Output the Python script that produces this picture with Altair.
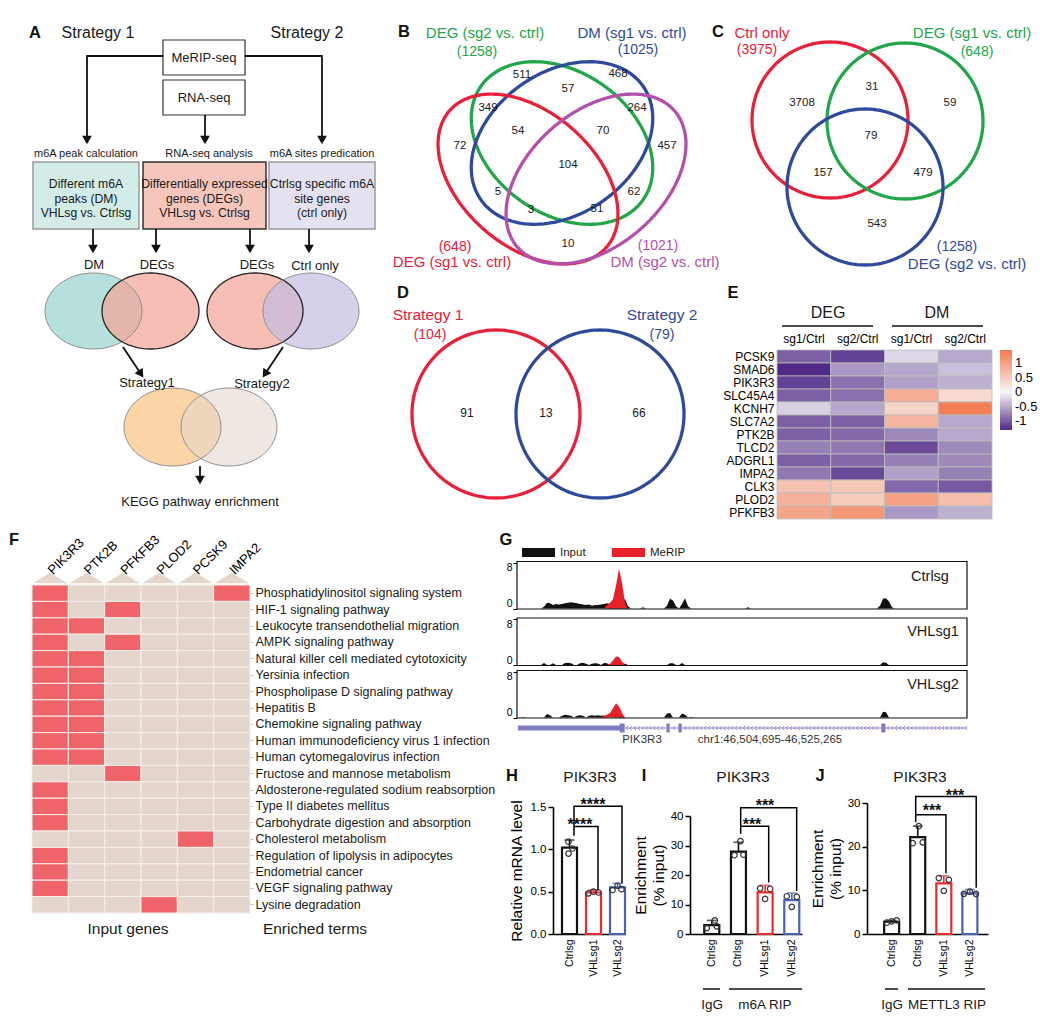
import numpy as np
import pandas as pd
import altair as alt

# ------------------------------------------------------------------ canvas
W, H = 1035, 1008
OFF = 8
FONT = "Liberation Sans"
BLACK = "#111111"
RED = "#e8203a"
GREEN = "#22a64a"
BLUE = "#2f4a9c"
MAGENTA = "#b450aa"
BAR_RED = "#ee2a2e"
BAR_BLUE = "#4a62b6"
TRK_RED = "#e8202a"


def P(v):
    return v - OFF


def CX():
    return alt.Scale(domain=[OFF, OFF + W], range=[0, W], nice=False, zero=False)


def CY():
    return alt.Scale(domain=[OFF, OFF + H], range=[0, H], nice=False, zero=False)


# ================================================================== DATA
# ---- B: four-set Venn
B_LABELS = ["DEG (sg2 vs. ctrl)", "DM (sg1 vs. ctrl)", "DEG (sg1 vs. ctrl)", "DM (sg2 vs. ctrl)"]
B_TOTALS = [1258, 1025, 648, 1021]
B_COLORS = [GREEN, BLUE, RED, MAGENTA]
B_COUNTS = [511, 57, 468, 349, 264, 54, 70, 72, 457, 104, 5, 62, 3, 51, 10]
# ---- C: three-set Venn
C_LABELS = ["Ctrl only", "DEG (sg1 vs. ctrl)", "DEG (sg2 vs. ctrl)"]
C_TOTALS = [3975, 648, 1258]
C_COLORS = [RED, GREEN, BLUE]
C_COUNTS = [3708, 31, 59, 79, 157, 479, 543]
# ---- D: two-set Venn
D_LABELS = ["Strategy 1", "Strategy 2"]
D_TOTALS = [104, 79]
D_COLORS = [RED, BLUE]
D_COUNTS = [91, 13, 66]

# ---- E: heatmap
E_GENES = ["PCSK9", "SMAD6", "PIK3R3", "SLC45A4", "KCNH7", "SLC7A2", "PTK2B",
           "TLCD2", "ADGRL1", "IMPA2", "CLK3", "PLOD2", "PFKFB3"]
E_COLS = ["DEG sg1", "DEG sg2", "DM sg1", "DM sg2"]
E_DEG_SG1 = [-0.95, -1.3, -1.15, -0.95, -0.25, -0.95, -0.95, -0.75, -0.95, -0.8, 0.6, 0.8, 0.95]
E_DEG_SG2 = [-1.15, -0.6, -0.85, -0.85, -0.5, -0.95, -0.9, -0.8, -0.9, -1.1, 0.55, 0.5, 1.1]
E_DM_SG1 = [-0.2, -0.5, -0.55, 0.85, 0.4, 0.75, -0.7, -1.1, -0.75, -0.55, -0.9, 1.0, -0.6]
E_DM_SG2 = [-0.5, -0.35, -0.45, 0.35, 1.4, -0.5, -0.5, -0.7, -0.7, -0.75, -1.0, 0.65, -0.45]
E_VALUES = [E_DEG_SG1, E_DEG_SG2, E_DM_SG1, E_DM_SG2]
E_LEGEND_VALUES = [1, 0.5, 0, -0.5, -1]

# ---- F: gene x KEGG term membership
F_GENES = ["PIK3R3", "PTK2B", "PFKFB3", "PLOD2", "PCSK9", "IMPA2"]
F_TERMS = [
    "Phosphatidylinositol signaling system", "HIF-1 signaling pathway",
    "Leukocyte transendothelial migration", "AMPK signaling pathway",
    "Natural killer cell mediated cytotoxicity", "Yersinia infection",
    "Phospholipase D signaling pathway", "Hepatitis B", "Chemokine signaling pathway",
    "Human immunodeficiency virus 1 infection", "Human cytomegalovirus infection",
    "Fructose and mannose metabolism", "Aldosterone-regulated sodium reabsorption",
    "Type II diabetes mellitus", "Carbohydrate digestion and absorption",
    "Cholesterol metabolism", "Regulation of lipolysis in adipocytes",
    "Endometrial cancer", "VEGF signaling pathway", "Lysine degradation",
]
F_HITS = [
    [1, 0, 0, 0, 0, 1], [1, 0, 1, 0, 0, 0], [1, 1, 0, 0, 0, 0], [1, 0, 1, 0, 0, 0],
    [1, 1, 0, 0, 0, 0], [1, 1, 0, 0, 0, 0], [1, 1, 0, 0, 0, 0], [1, 1, 0, 0, 0, 0],
    [1, 1, 0, 0, 0, 0], [1, 1, 0, 0, 0, 0], [1, 1, 0, 0, 0, 0], [0, 0, 1, 0, 0, 0],
    [1, 0, 0, 0, 0, 0], [1, 0, 0, 0, 0, 0], [1, 0, 0, 0, 0, 0], [0, 0, 0, 0, 1, 0],
    [1, 0, 0, 0, 0, 0], [1, 0, 0, 0, 0, 0], [1, 0, 0, 0, 0, 0], [0, 0, 0, 1, 0, 0],
]

# ---- G: coverage tracks (150 bins over chr1:46,504,695-46,525,265), only non-zero bins listed
G_NBINS = 150
G_CTRL_INPUT = {9: 0.3, 10: 1.0, 11: 0.9, 12: 0.6, 13: 0.8, 14: 0.7, 15: 0.8, 16: 0.9, 17: 1.0,
                18: 1.1, 19: 1.0, 20: 0.9, 21: 0.8, 22: 0.7, 23: 0.6, 24: 0.7, 25: 0.5, 26: 0.6,
                27: 0.6, 28: 0.7, 29: 0.8, 30: 0.9, 31: 0.8, 32: 0.7, 33: 0.9, 34: 1.2, 35: 1.6,
                36: 1.6, 37: 0.4, 42: 0.2, 50: 0.5, 51: 1.7, 52: 1.4, 53: 0.4, 55: 0.8, 56: 1.8,
                57: 0.4, 77: 0.2, 121: 0.5, 122: 1.7, 123: 1.8, 124: 1.2, 125: 0.2}
G_CTRL_MERIP = {30: 0.6, 31: 1.0, 32: 1.6, 33: 4.0, 34: 6.9, 35: 4.5, 36: 1.0}
G_SG1_INPUT = {9: 0.35, 12: 0.3, 16: 0.35, 17: 0.4, 18: 0.3, 21: 0.3, 22: 0.4, 23: 0.2, 25: 0.2,
               26: 0.3, 27: 0.25, 29: 0.35, 30: 0.3, 35: 0.3, 36: 0.2, 51: 0.3, 52: 0.3, 55: 0.35,
               122: 0.5, 123: 0.4}
G_SG1_MERIP = {31: 0.2, 32: 0.8, 33: 1.5, 34: 1.4, 35: 0.6}
G_SG2_INPUT = {2: 0.1, 10: 0.6, 11: 0.4, 15: 0.3, 16: 0.5, 17: 0.4, 18: 0.3, 20: 0.3, 21: 0.4,
               22: 0.3, 24: 0.3, 25: 0.4, 26: 0.3, 27: 0.4, 28: 0.3, 29: 0.35, 33: 0.3, 34: 0.4,
               35: 0.3, 50: 0.7, 51: 0.8, 55: 0.7, 56: 0.5, 58: 0.1, 122: 1.0, 123: 0.9}
G_SG2_MERIP = {29: 0.3, 30: 0.5, 31: 0.8, 32: 1.6, 33: 2.5, 34: 1.9, 35: 0.8}
G_SAMPLES = ["Ctrlsg", "VHLsg1", "VHLsg2"]
G_UTR = [(0.3, 35.0)]
G_EXONS = [(34.2, 35.9), (49.8, 50.9), (53.8, 54.9), (121.4, 122.8)]
G_INTRON = (35.9, 150.0)

# ---- H / I / J bar charts
H_CATS = ["Ctrlsg", "VHLsg1", "VHLsg2"]
H_MEAN = [1.02, 0.49, 0.55]
H_SD = [0.09, 0.03, 0.05]
H_PTS = [[1.09, 1.01, 0.95], [0.48, 0.50, 0.49], [0.52, 0.57, 0.53]]
I_CATS = ["IgG", "Ctrlsg", "VHLsg1", "VHLsg2"]
I_MEAN = [3.0, 27.9, 14.1, 11.5]
I_SD = [1.6, 3.2, 2.4, 2.4]
I_PTS = [[4.6, 2.0, 2.6], [31.5, 26.7, 26.9], [15.5, 15.3, 11.9], [12.8, 12.6, 9.2]]
J_CATS = ["IgG", "Ctrlsg", "VHLsg1", "VHLsg2"]
J_MEAN = [2.8, 22.2, 11.6, 9.3]
J_SD = [0.3, 2.5, 1.7, 0.9]
J_PTS = [[2.6, 2.9, 3.1], [24.7, 20.8, 21.0], [12.8, 12.4, 9.9], [9.2, 9.7, 9.2]]

# ================================================================== LAYOUT (page px)
B_ELL = [(562, 143, 99, 71, 35), (562, 143, 99, 71, -35), (528, 179, 104, 67, 41), (596, 179, 104, 67, -41)]
B_LABEL_POS = [(485, 33), (632, 33), (452, 262), (665, 262)]
B_TOTAL_POS = [(477, 52), (638, 50), (455, 247), (658, 246)]
B_COUNT_POS = [(522, 75), (568, 89), (618, 74), (488, 108), (637, 108), (518, 131), (603, 131),
               (460, 146), (667, 146), (568, 165), (498, 192), (634, 192), (531, 210), (597, 209), (568, 244)]
C_CIRC = [(830, 120, 78), (905, 121, 78), (865, 187, 78)]
C_LABEL_POS = [(762, 33), (972, 33), (967, 264)]
C_TOTAL_POS = [(757, 50), (977, 52), (957, 247)]
C_COUNT_POS = [(802, 103), (872, 87), (950, 103), (871, 136), (823, 173), (923, 173), (877, 224)]
D_CIRC = [(496, 414, 84), (600, 414, 84)]
D_LABEL_POS = [(428, 315), (662, 315)]
D_TOTAL_POS = [(430, 335), (662, 335)]
D_COUNT_POS = [(467, 413), (546, 413), (639, 413)]
G_TRACK_Y = [(608.5, 562.5), (665.0, 619.0), (717.5, 671.5)]

layers = []


# ------------------------------------------------------------------ helpers
def text_layer(rows, align="center", baseline="middle", weight="normal"):
    df = pd.DataFrame(rows, columns=["t", "x", "y", "s", "c"])
    return alt.Chart(df).mark_text(align=align, baseline=baseline, font=FONT, fontWeight=weight).encode(
        x=alt.X("x:Q", scale=CX(), axis=None),
        y=alt.Y("y:Q", scale=CY(), axis=None),
        text=alt.Text("t:N"),
        size=alt.Size("s:Q", scale=None, legend=None),
        color=alt.Color("c:N", scale=None, legend=None),
    )


def line_layer(polys):
    rows = []
    for pid, (pts, col, w) in enumerate(polys):
        for k, (x, y) in enumerate(pts):
            rows.append({"id": pid, "o": k, "x": float(x), "y": float(y), "c": col, "w": w})
    df = pd.DataFrame(rows)
    return alt.Chart(df).mark_line(strokeJoin="round").encode(
        x=alt.X("x:Q", scale=CX(), axis=None),
        y=alt.Y("y:Q", scale=CY(), axis=None),
        detail="id:N",
        order="o:Q",
        color=alt.Color("c:N", scale=None, legend=None),
        strokeWidth=alt.StrokeWidth("w:Q", scale=None, legend=None),
    )


def rect_layer(rows):
    df = pd.DataFrame(rows, columns=["x0", "y0", "x1", "y1", "f", "s", "w"])
    return alt.Chart(df).mark_rect().encode(
        x=alt.X("x0:Q", scale=CX(), axis=None), x2="x1:Q",
        y=alt.Y("y0:Q", scale=CY(), axis=None), y2="y1:Q",
        color=alt.Color("f:N", scale=None, legend=None),
        stroke=alt.Stroke("s:N", scale=None, legend=None),
        strokeWidth=alt.StrokeWidth("w:Q", scale=None, legend=None),
    )


def ellipse_pts(cx, cy, a, b, ang=0.0, n=180):
    t = np.linspace(0, 2 * np.pi, n + 1)
    th = np.deg2rad(ang)
    x = cx + a * np.cos(t) * np.cos(th) - b * np.sin(t) * np.sin(th)
    y = cy + a * np.cos(t) * np.sin(th) + b * np.sin(t) * np.cos(th)
    return list(zip(x, y))


def ellipse_fill(cx, cy, rx, ry, fill, op):
    t = np.linspace(np.pi, 0, 121)
    df = pd.DataFrame({"x": cx + rx * np.cos(t), "y": cy - ry * np.sin(t), "y2": cy + ry * np.sin(t)})
    return alt.Chart(df).mark_area(color=fill, opacity=op, interpolate="linear").encode(
        x=alt.X("x:Q", scale=CX(), axis=None),
        y=alt.Y("y:Q", scale=CY(), axis=None, stack=None),
        y2="y2:Q",
    )


# ================================================================== PANEL A
A_ELL = [  # cx, cy, rx, ry, fill, opacity, stroke, width
    (93.5, 311, 48.5, 38, "#b5e0db", 1.0, "#8c8c8c", 1.0),
    (150.5, 311, 48.5, 38, "#f3a89c", 0.75, "#222222", 1.3),
    (255, 311, 48, 38, "#f3a89c", 0.75, "#222222", 1.3),
    (311, 311, 48, 38, "#c4bce1", 0.7, "#8c8c8c", 1.0),
    (172.5, 427, 48.5, 39, "#fcd5a6", 1.0, "#8c8c8c", 1.0),
    (229, 427, 48, 39, "#e4d7cd", 0.6, "#8c8c8c", 1.0),
]
for e in A_ELL:
    layers.append(ellipse_fill(e[0], e[1], e[2], e[3], e[4], e[5]))

RECTS = [
    (163, 40, 245, 75, "white", "#333333", 1.2),
    (163, 80, 245, 115, "white", "#333333", 1.2),
    (33, 162, 139, 229, "#d4ece8", "#9a9a9a", 1.5),
    (143, 162, 266, 229, "#f6c6bc", "#333333", 1.5),
    (269, 162, 375, 229, "#e4e1f1", "#9a9a9a", 1.5),
    (522, 548, 555, 557, BLACK, BLACK, 0),
    (612, 548, 645, 557, TRK_RED, TRK_RED, 0),
]
layers.append(rect_layer(RECTS))

# ================================================================== PANEL G tracks
GXS = dict(domain=[0, G_NBINS], range=[P(517), P(967)], nice=False, zero=False)
tracks = [(G_CTRL_INPUT, G_CTRL_MERIP), (G_SG1_INPUT, G_SG1_MERIP), (G_SG2_INPUT, G_SG2_MERIP)]
for (inp, mer), (y0, y8) in zip(tracks, G_TRACK_Y):
    df = pd.DataFrame({
        "bin": list(range(G_NBINS + 1)),
        "inp": [inp.get(i, 0.0) for i in range(G_NBINS + 1)],
        "mer": [mer.get(i, 0.0) for i in range(G_NBINS + 1)],
    })
    ysd = dict(domain=[0, 8], range=[P(y0), P(y8)], nice=False, zero=True)
    layers.append(alt.Chart(df).mark_area(color=BLACK, interpolate="linear").encode(
        x=alt.X("bin:Q", scale=alt.Scale(**GXS), axis=None),
        y=alt.Y("inp:Q", scale=alt.Scale(**ysd), stack=None,
                axis=alt.Axis(orient="left", offset=-P(517), values=[0, 8], title=None, domain=False,
                              tickSize=4, tickColor="black", tickWidth=1, labelFontSize=10.5,
                              labelColor="black", labelPadding=1, grid=False, labelFont=FONT,
                              labelFlush=True, labelFlushOffset=0)),
    ))
    layers.append(alt.Chart(df).mark_area(color=TRK_RED, interpolate="linear").encode(
        x=alt.X("bin:Q", scale=alt.Scale(**GXS), axis=None),
        y=alt.Y("mer:Q", scale=alt.Scale(**ysd), stack=None, axis=None),
    ))

FRAMES = [
    (517, 561.5, 967, 609, "transparent", BLACK, 1.2),
    (517, 618, 967, 665.5, "transparent", BLACK, 1.2),
    (517, 670.5, 967, 718, "transparent", BLACK, 1.2),
]
layers.append(rect_layer(FRAMES))

# gene model
gm_rows = [{"s": s, "e": e, "y0": 725.5, "y1": 730.5} for s, e in G_UTR] + \
          [{"s": s, "e": e, "y0": 723.5, "y1": 732.5} for s, e in G_EXONS]
layers.append(alt.Chart(pd.DataFrame(gm_rows)).mark_rect(color="#7f7bc0").encode(
    x=alt.X("s:Q", scale=alt.Scale(**GXS), axis=None), x2="e:Q",
    y=alt.Y("y0:Q", scale=CY(), axis=None), y2="y1:Q",
))
layers.append(alt.Chart(pd.DataFrame([{"s": G_INTRON[0], "e": G_INTRON[1], "y": 728}])).mark_rule(
    color="#8a86c6", strokeWidth=1.2).encode(
    x=alt.X("s:Q", scale=alt.Scale(**GXS), axis=None), x2="e:Q",
    y=alt.Y("y:Q", scale=CY(), axis=None),
))
chev = [b for b in np.arange(G_INTRON[0] + 0.8, G_INTRON[1], 1.3)
        if not any(s - 0.6 < b < e + 0.6 for s, e in G_EXONS)]
layers.append(alt.Chart(pd.DataFrame({"b": chev, "y": 728})).mark_point(
    shape="M0.5,-1L-0.5,0L0.5,1", filled=False, size=16, strokeWidth=0.9, color="#8a86c6", opacity=1).encode(
    x=alt.X("b:Q", scale=alt.Scale(**GXS), axis=None),
    y=alt.Y("y:Q", scale=CY(), axis=None),
))

# ================================================================== PANEL E heatmap
e_rows = []
for gi, g in enumerate(E_GENES):
    for ci, c in enumerate(E_COLS):
        e_rows.append({"gene": g, "col": c, "val": E_VALUES[ci][gi]})
layers.append(alt.Chart(pd.DataFrame(e_rows)).mark_rect(stroke="#bdbdbd", strokeWidth=0.8).encode(
    x=alt.X("col:N", scale=alt.Scale(domain=E_COLS, range=[P(777), P(992)], paddingInner=0, paddingOuter=0),
            axis=alt.Axis(orient="top", offset=-P(350), title=None, domain=False, ticks=False, labelAngle=0,
                          labelPadding=5, labelFontSize=12, labelColor="black", labelFont=FONT,
                          labelExpr="split(datum.value, ' ')[1] + '/Ctrl'")),
    y=alt.Y("gene:N", scale=alt.Scale(domain=E_GENES, range=[P(350), P(519)], paddingInner=0, paddingOuter=0),
            axis=alt.Axis(orient="left", offset=-P(777), title=None, domain=False, ticks=False,
                          labelPadding=3, labelFontSize=12, labelColor="black", labelFont=FONT)),
    color=alt.Color("val:Q",
                    scale=alt.Scale(domain=[-1.3, 0, 1.45], range=["#4f2a86", "#f7f7f7", "#f47a50"],
                                    interpolate="rgb"),
                    legend=alt.Legend(orient="none", legendX=P(1000), legendY=P(350), title=None,
                                      direction="vertical", gradientLength=80, gradientThickness=12,
                                      values=E_LEGEND_VALUES, labelFontSize=13, labelFont=FONT,
                                      labelColor="black", gradientStrokeWidth=0, labelOffset=3, padding=0,
                                      labelExpr="datum.value < 0 ? '-' + toString(-datum.value) : toString(datum.value)")),
))

# ================================================================== PANEL F membership grid
FXS = dict(domain=F_GENES, range=[P(32), P(250)], paddingInner=0, paddingOuter=0)
f_rows = []
for ti, t in enumerate(F_TERMS):
    for gi, g in enumerate(F_GENES):
        f_rows.append({"term": t, "gene": g, "hit": F_HITS[ti][gi]})
layers.append(alt.Chart(pd.DataFrame(f_rows)).transform_calculate(
    fc="datum.hit == 1 ? '#ef6468' : '#e5d6cd'").mark_rect(stroke="#f5eeea", strokeWidth=1).encode(
    x=alt.X("gene:N", scale=alt.Scale(**FXS),
            axis=alt.Axis(orient="top", offset=-P(572), title=None, domain=False, ticks=False,
                          labelAngle=315, labelAlign="left", labelBaseline="middle", labelPadding=0,
                          labelFontSize=13, labelColor="black", labelFont=FONT)),
    y=alt.Y("term:N", scale=alt.Scale(domain=F_TERMS, range=[P(585), P(913)], paddingInner=0, paddingOuter=0),
            axis=alt.Axis(orient="right", offset=P(250) - W, title=None, domain=False, tickSize=3,
                          tickColor="#c8c8c8", labelPadding=2, labelFontSize=12.5, labelColor="#1a1a1a",
                          labelFont=FONT, labelLimit=0)),
    color=alt.Color("fc:N", scale=None, legend=None),
))
layers.append(alt.Chart(pd.DataFrame({"gene": F_GENES})).mark_point(
    shape="M-1,0.3L0,-0.3L1,0.3Z", size=1190, filled=True, color="#e5d6cd", opacity=1, strokeWidth=0).encode(
    x=alt.X("gene:N", scale=alt.Scale(**FXS), axis=None),
    y=alt.value(P(578)),
))


# ================================================================== PANELS H I J
def bar_panel(cats, means, sds, pts, jit, colors, xr, pin, pout, align, ydom, yr, yvals, yfmt,
              ytitle, tpad, brackets):
    n = len(cats)
    step = (xr[1] - xr[0]) / max(1, n - pin + 2 * pout)
    bw = step * (1 - pin)
    xsd = dict(domain=cats, range=[P(xr[0]), P(xr[1])], paddingInner=pin, paddingOuter=pout, align=align)
    ysd = dict(domain=ydom, range=[P(yr[0]), P(yr[1])], nice=False, zero=True)
    df = pd.DataFrame({"cat": cats, "mean": means, "top": [m + s for m, s in zip(means, sds)], "col": colors})
    xaxis = alt.Axis(orient="bottom", offset=P(yr[0]) - H, title=None, labelAngle=270, labelAlign="right",
                     labelBaseline="middle", labelPadding=5, labelFontSize=10.5, labelColor="black",
                     labelFont=FONT, ticks=False, domainColor="black", domainWidth=1.6, grid=False,
                     labelExpr="datum.value == 'IgG' ? 'Ctrlsg' : datum.value")
    yaxis = alt.Axis(orient="left", offset=-P(xr[0]), values=yvals, format=yfmt, title=ytitle,
                     titleFontSize=15.5, titleFontWeight="normal", titleColor="black", titleFont=FONT,
                     titlePadding=tpad, titleLineHeight=18, labelFontSize=11.5, labelColor="black",
                     labelFont=FONT, labelPadding=2, tickSize=5, tickWidth=1.5, tickColor="black",
                     domainColor="black", domainWidth=1.6, grid=False)
    out = []
    out.append(alt.Chart(df).mark_bar(size=15, fill="white", strokeWidth=2.2).encode(
        x=alt.X("cat:N", scale=alt.Scale(**xsd), axis=xaxis),
        y=alt.Y("mean:Q", scale=alt.Scale(**ysd), axis=yaxis),
        stroke=alt.Stroke("col:N", scale=None, legend=None),
    ))
    out.append(alt.Chart(df).mark_rule(strokeWidth=1.6).encode(
        x=alt.X("cat:N", scale=alt.Scale(**xsd), axis=None),
        y=alt.Y("mean:Q", scale=alt.Scale(**ysd), axis=None), y2="top:Q",
        color=alt.Color("col:N", scale=None, legend=None),
    ))
    out.append(alt.Chart(df).mark_tick(orient="horizontal", size=10, thickness=1.6).encode(
        x=alt.X("cat:N", scale=alt.Scale(**xsd), axis=None),
        y=alt.Y("top:Q", scale=alt.Scale(**ysd), axis=None),
        color=alt.Color("col:N", scale=None, legend=None),
    ))
    prow = []
    for c, vals, js in zip(cats, pts, jit):
        for v, j in zip(vals, js):
            prow.append({"cat": c, "v": v, "j": j + bw / 2})
    out.append(alt.Chart(pd.DataFrame(prow)).mark_point(
        shape="circle", filled=False, size=30, strokeWidth=1.2, color="#333333", opacity=1).encode(
        x=alt.X("cat:N", scale=alt.Scale(**xsd), axis=None),
        y=alt.Y("v:Q", scale=alt.Scale(**ysd), axis=None),
        xOffset=alt.XOffset("j:Q", scale=None),
    ))
    brow = []
    for bid, (c1, c2, ytop, y1, y2) in enumerate(brackets):
        for k, (c, yv) in enumerate([(c1, y1), (c1, ytop), (c2, ytop), (c2, y2)]):
            brow.append({"id": bid, "o": k, "cat": c, "v": yv})
    out.append(alt.Chart(pd.DataFrame(brow)).mark_line(color="black", strokeWidth=1.5).encode(
        x=alt.X("cat:N", scale=alt.Scale(**xsd), axis=None),
        y=alt.Y("v:Q", scale=alt.Scale(**ysd), axis=None),
        detail="id:N", order="o:Q",
    ))
    return out


layers += bar_panel(H_CATS, H_MEAN, H_SD, H_PTS, [[-1, 3, -1], [-5, 0, 5], [-5, 0, 4]],
                    [BLACK, BAR_RED, BAR_BLUE], (553, 625), 0.5, 0.25, 0.875, [0, 1.5], (934, 807),
                    [0, 0.5, 1.0, 1.5], ".1f", "Relative mRNA level", 6,
                    [("Ctrlsg", "VHLsg1", 1.27, 1.16, 0.52), ("Ctrlsg", "VHLsg2", 1.51, 1.27, 0.60)])
layers += bar_panel(I_CATS, I_MEAN, I_SD, I_PTS, [[3, -5, 5], [2, -4, 5], [-5, 5, 0], [-5, 5, 0]],
                    [BLACK, BLACK, BAR_RED, BAR_BLUE], (690, 802), 0.5, 0.35, 0.81, [0, 40], (934, 816),
                    [0, 10, 20, 30, 40], "d", ["Enrichment", "(% input)"], 4,
                    [("Ctrlsg", "VHLsg1", 36.5, 34.0, 17.5), ("Ctrlsg", "VHLsg2", 42.8, 36.5, 14.6)])
layers += bar_panel(J_CATS, J_MEAN, J_SD, J_PTS, [[-5, 0, 5], [1, -5, 5], [-5, 5, 0], [-6, 0, 6]],
                    [BLACK, BLACK, BAR_RED, BAR_BLUE], (867, 988), 0.5, 0.57, 0.61, [0, 30], (934, 803),
                    [0, 10, 20, 30], "d", ["Enrichment", "(% input)"], 4,
                    [("Ctrlsg", "VHLsg1", 27.3, 25.6, 13.9), ("Ctrlsg", "VHLsg2", 31.5, 27.3, 10.6)])

# ================================================================== lines
polys = []
# panel A connectors
polys += [
    ([(163, 56), (87, 56), (87, 137)], BLACK, 1.8),
    ([(245, 56), (322, 56), (322, 137)], BLACK, 1.8),
    ([(205, 115), (205, 137)], BLACK, 1.8),
    ([(93, 229), (93, 247)], BLACK, 1.8),
    ([(156, 229), (156, 247)], BLACK, 1.8),
    ([(250, 229), (250, 247)], BLACK, 1.8),
    ([(309, 229), (309, 247)], BLACK, 1.8),
    ([(123, 347), (139, 371)], BLACK, 1.8),
    ([(283, 347), (267, 371)], BLACK, 1.8),
    ([(200, 466), (200, 478)], BLACK, 1.8),
]
for e in A_ELL:
    polys.append((ellipse_pts(e[0], e[1], e[2], e[3]), e[6], e[7]))
# B, C, D outlines
for (cx, cy, a, b, ang), col in zip(B_ELL, B_COLORS):
    polys.append((ellipse_pts(cx, cy, a, b, ang), col, 3.3))
for (cx, cy, r), col in zip(C_CIRC, C_COLORS):
    polys.append((ellipse_pts(cx, cy, r, r), col, 3.3))
for (cx, cy, r), col in zip(D_CIRC, D_COLORS):
    polys.append((ellipse_pts(cx, cy, r, r), col, 3.3))
# E header rules, I/J group rules
polys += [
    ([(782, 326), (873, 326)], BLACK, 1.5),
    ([(892, 326), (983, 326)], BLACK, 1.5),
    ([(703, 989), (720, 989)], BLACK, 1.5),
    ([(729, 989), (802, 989)], BLACK, 1.5),
    ([(885, 989), (898, 989)], BLACK, 1.5),
    ([(908, 989), (985, 989)], BLACK, 1.5),
]
layers.append(line_layer(polys))

ARROWHEADS = [(87, 140, 0), (322, 140, 0), (205, 140, 0), (93, 249, 0), (156, 249, 0), (250, 249, 0),
              (309, 249, 0), (141, 374, 326), (265, 374, 34), (200, 480, 0)]
layers.append(alt.Chart(pd.DataFrame(ARROWHEADS, columns=["x", "y", "a"])).mark_point(
    shape="triangle-down", filled=True, size=95, color=BLACK, opacity=1).encode(
    x=alt.X("x:Q", scale=CX(), axis=None),
    y=alt.Y("y:Q", scale=CY(), axis=None),
    angle=alt.Angle("a:Q", scale=None),
))

# ================================================================== texts
K = "#1a1a1a"
txt = [
    ("Strategy 1", 98, 33, 16, K), ("Strategy 2", 307, 33, 16, K),
    ("MeRIP-seq", 204, 58, 13, K), ("RNA-seq", 204, 98, 13, K),
    ("m6A peak calculation", 86, 154, 11, K), ("RNA-seq analysis", 209, 154, 11, K),
    ("m6A sites predication", 322, 154, 11, K),
    ("Different m6A", 86, 184, 12.2, K), ("peaks (DM)", 86, 199, 12.2, K), ("VHLsg vs. Ctrlsg", 86, 213, 12.2, K),
    ("Differentially expressed", 204.5, 184, 12.2, K), ("genes (DEGs)", 204.5, 199, 12.2, K),
    ("VHLsg vs. Ctrlsg", 204.5, 213, 12.2, K),
    ("Ctrlsg specific m6A", 322, 184, 12.2, K), ("site genes", 322, 199, 12.2, K), ("(ctrl only)", 322, 213, 12.2, K),
    ("DM", 94, 265, 13, K), ("DEGs", 157, 265, 13, K), ("DEGs", 257, 265, 13, K), ("Ctrl only", 315, 266, 13, K),
    ("Strategy1", 147, 383, 13, K), ("Strategy2", 262, 384, 13, K), ("KEGG pathway enrichment", 200, 502, 13, K),
    ("DEG", 828, 313, 16, K), ("DM", 937, 313, 16, K),
    ("Input genes", 128, 929, 15.5, K), ("Enriched terms", 315, 929, 15.5, K),
    ("Ctrlsg", 930, 577, 14.5, K), ("VHLsg1", 933, 632, 14.5, K), ("VHLsg2", 933, 685, 14.5, K),
    ("PIK3R3", 642, 740, 11.5, "#333333"), ("chr1:46,504,695-46,525,265", 770, 740, 11.5, "#333333"),
    ("PIK3R3", 590, 777, 15.5, K), ("PIK3R3", 743, 777, 15.5, K), ("PIK3R3", 920, 777, 15.5, K),
    ("IgG", 712, 1005, 13.5, K), ("m6A RIP", 765, 1005, 13.5, K),
    ("IgG", 892, 1005, 13.5, K), ("METTL3 RIP", 947, 1005, 13.5, K),
]
for lab, tot, (lx, ly), (tx, ty), col in zip(B_LABELS, B_TOTALS, B_LABEL_POS, B_TOTAL_POS, B_COLORS):
    txt += [(lab, lx, ly, 15, col), ("(%d)" % tot, tx, ty, 14, col)]
for lab, tot, (lx, ly), (tx, ty), col in zip(C_LABELS, C_TOTALS, C_LABEL_POS, C_TOTAL_POS, C_COLORS):
    txt += [(lab, lx, ly, 15, col), ("(%d)" % tot, tx, ty, 14, col)]
for lab, tot, (lx, ly), (tx, ty), col in zip(D_LABELS, D_TOTALS, D_LABEL_POS, D_TOTAL_POS, D_COLORS):
    txt += [(lab, lx, ly, 15.5, col), ("(%d)" % tot, tx, ty, 14, col)]
for v, (x, y) in zip(B_COUNTS, B_COUNT_POS):
    txt.append((str(v), x, y, 11.5, K))
for v, (x, y) in zip(C_COUNTS, C_COUNT_POS):
    txt.append((str(v), x, y, 11.5, K))
for v, (x, y) in zip(D_COUNTS, D_COUNT_POS):
    txt.append((str(v), x, y, 12, K))
layers.append(text_layer(txt))

layers.append(text_layer([("Input", 560, 552.5, 11.5, K), ("MeRIP", 650, 552.5, 11.5, K)], align="left"))

stars = [("****", 580, 825, 16, BLACK), ("****", 593, 805, 16, BLACK), ("***", 752, 825, 16, BLACK),
         ("***", 765, 806, 16, BLACK), ("***", 932, 811, 16, BLACK), ("***", 955, 796, 16, BLACK)]
layers.append(text_layer(stars, weight="bold"))

letters = [("A", 35, 33, 16.5, BLACK), ("B", 404, 32, 16.5, BLACK), ("C", 718, 32, 16.5, BLACK),
           ("D", 403, 293, 16.5, BLACK), ("E", 733, 293, 16.5, BLACK), ("F", 14, 540, 16.5, BLACK),
           ("G", 506, 540, 16.5, BLACK), ("H", 512, 776, 16.5, BLACK), ("I", 644, 776, 16.5, BLACK),
           ("J", 820, 776, 16.5, BLACK)]
layers.append(text_layer(letters, weight="bold"))

# ================================================================== assemble
chart = alt.layer(*layers).resolve_scale(
    x="independent", y="independent", color="independent", stroke="independent",
).properties(
    width=W, height=H, padding=0, autosize=alt.AutoSizeParams(type="none"),
).configure(font=FONT).configure_view(stroke=None)

chart.save("out.html", embed_options={"renderer": "svg", "actions": False})
